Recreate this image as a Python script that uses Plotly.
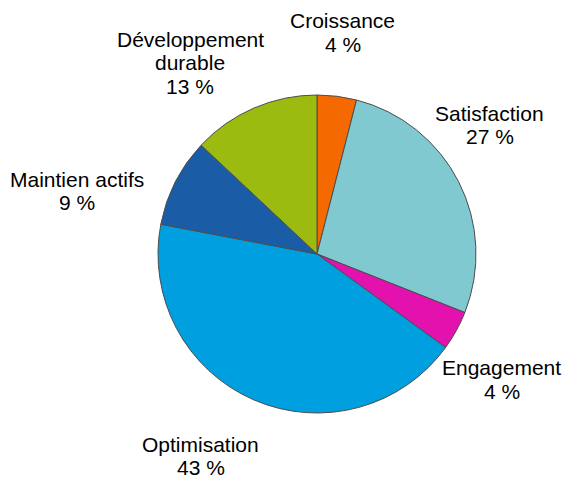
import math
import plotly.graph_objects as go

categories = ["Croissance", "Satisfaction", "Engagement", "Optimisation", "Maintien actifs", "Développement<br>durable"]
values = [4, 27, 4, 43, 9, 13]
colors = ["#F46A00", "#80C9D1", "#E312AE", "#009FE0", "#1A5CA6", "#9BBB11"]

# label placement (layout only): angular shift from slice middle (deg), distance as multiple of radius
label_shift_deg = [-0.6, -10, 5.2, 6.6, -12, -10]
label_dist = [1.41, 1.36, 1.40, 1.46, 1.56, 1.45]

W, H = 564, 480
cx, cy, R = 317, 254, 159
FONT = "Liberation Sans, Arial, sans-serif"
FS = 21
LINE = 23.5

fig = go.Figure(go.Pie(
    labels=categories,
    values=values,
    sort=False,
    direction="clockwise",
    rotation=0,
    marker=dict(colors=colors, line=dict(color="#4d4d4d", width=1)),
    textinfo="none",
    showlegend=False,
    domain=dict(x=[(cx - R) / W, (cx + R) / W], y=[(H - cy - R) / H, (H - cy + R) / H]),
    automargin=False,
    hoverinfo="label+percent",
))

total = sum(values)
cum = 0
annotations = []
for i, (lab, v) in enumerate(zip(categories, values)):
    mid = (cum + v / 2) / total * 360
    cum += v
    ang = math.radians(mid + label_shift_deg[i])
    d = label_dist[i] * R
    px = cx + d * math.sin(ang)
    py = cy - d * math.cos(ang) + 1
    lines = lab.split("<br>") + [f"{v} %"]
    n = len(lines)
    for j, t in enumerate(lines):
        ly = py + (j - (n - 1) / 2) * LINE
        annotations.append(dict(
            x=px / W, y=(H - ly) / H, xref="paper", yref="paper",
            text=t, showarrow=False, xanchor="center", yanchor="middle",
            font=dict(family=FONT, size=FS, color="#000000"),
        ))

fig.update_layout(
    width=W, height=H,
    margin=dict(l=0, r=0, t=0, b=0),
    paper_bgcolor="white",
    plot_bgcolor="white",
    annotations=annotations,
)

fig.write_html("out.html", config={"displayModeBar": False},
               post_script="document.body.style.margin='0px';")
